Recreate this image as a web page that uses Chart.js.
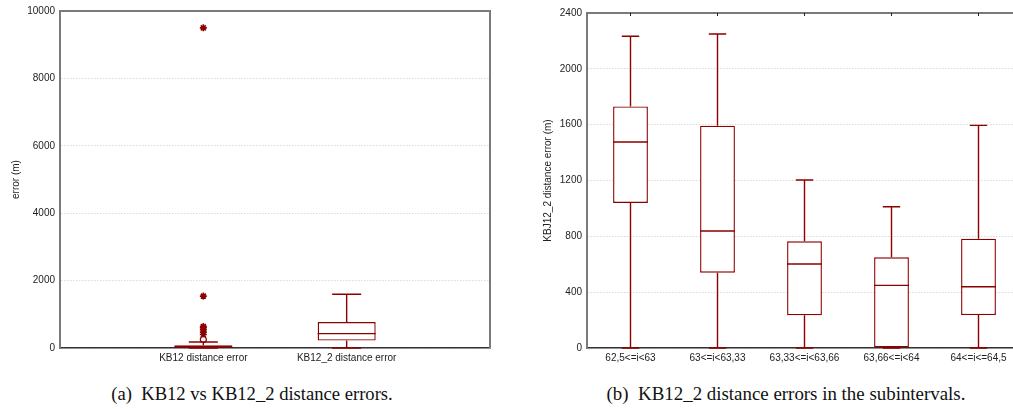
<!DOCTYPE html>
<html lang="en">
<head>
  <meta charset="UTF-8">
  <title>KB12 distance errors</title>
  <script src="https://cdn.jsdelivr.net/npm/chart.js"></script>
  <style>
    html, body { margin: 0; padding: 0; background: #fff; }
    body { width: 1013px; height: 409px; overflow: hidden; position: relative; }
    .panel { position: absolute; top: 0; }
    .caption {
      position: absolute; top: 383px;
      font-family: "Liberation Serif", "Times New Roman", serif;
      color: #111; white-space: nowrap;
      transform: translateX(-50%);
    }
  </style>
</head>
<body>
<div class="panel" style="left:0;width:500px;height:365px"><canvas id="chartA"></canvas></div>
<div class="panel" style="left:500px;width:530px;height:365px"><canvas id="chartB"></canvas></div>
<div class="caption" style="left:252px;font-size:18.6px">(a)&nbsp; KB12 vs KB12_2 distance errors.</div>
<div class="caption" style="left:786px;font-size:18.9px">(b)&nbsp; KB12_2 distance errors in the subintervals.</div>

<script>
  // (a) dos categorías, con huecos a los lados
  const labelsA = ['', 'KB12 distance error', 'KB12_2 distance error', ''];
  const minA = [null, 0, 0, null];
  const q1A = [null, 0, 220, null];
  const medA = [null, 25, 427, null];
  const q3A = [null, 80, 772, null];
  const maxA = [null, 178, 1593, null];
  const outliersA = [250];                       // círculos (KB12)
  const extremesA = [400, 470, 540, 600, 640, 1540, 9500]; // asteriscos (KB12)
  const ticksA = [0, 2000, 4000, 6000, 8000, 10000];

  // (b) subintervalos
  const labelsB = ['62,5<=i<63', '63<=i<63,33', '63,33<=i<63,66', '63,66<=i<64', '64<=i<=64,5'];
  const minB = [0, 0, 0, 0, 0];
  const q1B = [1039, 540, 234, 0, 236];
  const medB = [1476, 838, 602, 449, 439];
  const q3B = [1731, 1593, 764, 650, 783];
  const maxB = [2233, 2250, 1204, 1012, 1595];
  const ticksB = [0, 400, 800, 1200, 1600, 2000, 2400];

  const RED = '#8b0000';
  const FONT = { family: 'Liberation Sans, Arial, sans-serif', size: 10 };

  // bigotes, tapas y mediana dibujados con las escalas del gráfico
  const whiskers = {
    id: 'whiskers',
    afterDatasetsDraw(chart) {
      const st = chart.options.plugins.whiskers;
      const y = chart.scales.y;
      const bars = chart.getDatasetMeta(0).data;
      const ctx = chart.ctx;
      ctx.save();
      ctx.strokeStyle = RED;
      ctx.lineWidth = 1.4;
      st.med.forEach((m, i) => {
        if (m === null) return;
        const bar = bars[i];
        const x = bar.x, half = bar.width / 2, cap = bar.width / 4;
        ctx.beginPath();
        // bigote superior
        ctx.moveTo(x, y.getPixelForValue(st.q3[i]));
        ctx.lineTo(x, y.getPixelForValue(st.max[i]));
        ctx.moveTo(x - cap, y.getPixelForValue(st.max[i]));
        ctx.lineTo(x + cap, y.getPixelForValue(st.max[i]));
        // bigote inferior
        ctx.moveTo(x, y.getPixelForValue(st.q1[i]));
        ctx.lineTo(x, y.getPixelForValue(st.min[i]));
        ctx.moveTo(x - cap, y.getPixelForValue(st.min[i]));
        ctx.lineTo(x + cap, y.getPixelForValue(st.min[i]));
        // mediana
        ctx.moveTo(x - half, y.getPixelForValue(m));
        ctx.lineTo(x + half, y.getPixelForValue(m));
        ctx.stroke();
      });
      ctx.restore();
    }
  };

  // marco gris arriba y a la derecha, marcas pequeñas en las categorías
  const frame = {
    id: 'frame',
    afterDraw(chart) {
      const a = chart.chartArea;
      const ctx = chart.ctx;
      ctx.save();
      ctx.strokeStyle = '#7a7a7a';
      ctx.lineWidth = 2;
      ctx.beginPath();
      ctx.moveTo(a.left, a.top);
      ctx.lineTo(a.right, a.top);
      ctx.lineTo(a.right, a.bottom);
      ctx.stroke();
      if (chart.options.plugins.frame.marks) {
        const x = chart.scales.x;
        ctx.strokeStyle = '#222';
        ctx.lineWidth = 1;
        x.ticks.forEach((t, i) => {
          const px = x.getPixelForTick(i);
          ctx.beginPath();
          ctx.moveTo(px, a.top);
          ctx.lineTo(px, a.top + 3);
          ctx.stroke();
        });
      }
      ctx.restore();
    }
  };

  function makeChart(id, o) {
    const datasets = [{
      type: 'bar',
      data: o.q1.map((v, i) => v === null ? null : [v, o.q3[i]]),
      backgroundColor: '#ffffff',
      borderColor: RED,
      borderWidth: 1.4,
      borderSkipped: false,
      categoryPercentage: 1,
      barPercentage: o.barPct
    }];
    (o.outliers || []).forEach(s => datasets.push({
      type: 'scatter',
      data: s.values.map(v => ({ x: s.label, y: v })),
      pointStyle: s.style,
      radius: s.radius,
      backgroundColor: s.fill,
      borderColor: RED,
      borderWidth: s.width
    }));

    new Chart(document.getElementById(id), {
      type: 'bar',
      data: { labels: o.labels, datasets },
      options: {
        responsive: true,
        maintainAspectRatio: false,
        animation: false,
        layout: { padding: { top: o.top, right: o.right, left: 0, bottom: 0 } },
        plugins: {
          legend: { display: false },
          tooltip: { enabled: false },
          whiskers: { min: o.min, q1: o.q1, med: o.med, q3: o.q3, max: o.max },
          frame: { marks: o.marks }
        },
        scales: {
          x: {
            type: 'category',
            offset: o.offset,
            grid: { display: false, drawTicks: false },
            border: { color: '#333', width: 1.5 },
            ticks: { font: FONT, color: '#222', padding: 4, maxRotation: 0, autoSkip: false },
            afterFit(s) { s.height = 17; }
          },
          y: {
            min: o.ticks[0],
            max: o.ticks[o.ticks.length - 1],
            afterBuildTicks(s) { s.ticks = o.ticks.map(v => ({ value: v })); },
            grid: { color: '#dadada', lineWidth: 1, drawTicks: false },
            border: { color: '#7a7a7a', width: 2, dash: [1.5, 1.5] },
            ticks: { font: FONT, color: '#222', padding: 5, callback: v => String(v) },
            title: { display: true, text: o.yTitle, font: FONT, color: '#222', padding: { top: o.titlePad, bottom: 0 } },
            afterFit(s) { s.width = o.yWidth; }
          }
        }
      },
      plugins: [whiskers, frame]
    });
  }

  makeChart('chartA', {
    labels: labelsA, min: minA, q1: q1A, med: medA, q3: q3A, max: maxA,
    ticks: ticksA, yTitle: 'error (m)', offset: false, barPct: 0.405,
    top: 11, right: 10, yWidth: 60, titlePad: 10, marks: false,
    outliers: [
      { label: labelsA[1], values: outliersA, style: 'circle', radius: 3, fill: '#fff', width: 1.2 },
      { label: labelsA[1], values: extremesA, style: 'star', radius: 3.5, fill: RED, width: 1.6 }
    ]
  });

  makeChart('chartB', {
    labels: labelsB, min: minB, q1: q1B, med: medB, q3: q3B, max: maxB,
    ticks: ticksB, yTitle: 'KBJ12_2 distance error (m)', offset: true, barPct: 0.40,
    top: 13, right: 8, yWidth: 87, titlePad: 42, marks: true
  });
</script>
</body>
</html>
